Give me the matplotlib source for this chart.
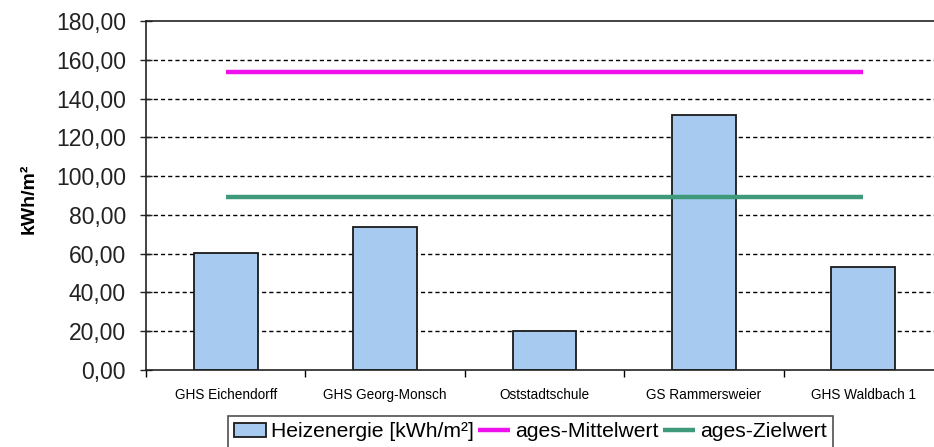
import numpy as np
import matplotlib
matplotlib.use('Agg')
import matplotlib.pyplot as plt
import matplotlib.ticker as ticker

plt.rcParams['font.family'] = ['Liberation Sans', 'DejaVu Sans']

schulen      = ['GHS Eichendorff', 'GHS Georg-Monsch', 'Oststadtschule', 'GS Rammersweier', 'GHS Waldbach 1']
heizenergie  = [60.2, 74.0, 20.0, 131.5, 53.0]
mittelwert   = [153.6, 153.6, 153.6, 153.6, 153.6]
zielwert     = [89.1, 89.1, 89.1, 89.1, 89.1]
y_ticks      = np.arange(0, 181, 20)
y_ticklabels = ['%.2f' % v for v in y_ticks]
y_ticklabels = [s.replace('.', ',') for s in y_ticklabels]

fig_width  = 9.34
fig_height = 4.47
fig = plt.figure(figsize=(fig_width, fig_height), dpi=100)
ax  = fig.add_axes([146/934, 1 - 370/447, 797/934, 349/447])

x = np.arange(len(schulen))
bars = ax.bar(x, heizenergie, width=0.40, color='#a6caf0', edgecolor='#1a1a1a', linewidth=1.3,
              zorder=2, label='Heizenergie [kWh/m²]')
l1, = ax.plot(x, mittelwert, color='#ee11ee', linewidth=3.2, solid_capstyle='butt', zorder=3,
              label='ages-Mittelwert')
l2, = ax.plot(x, zielwert, color='#3f9a7c', linewidth=3.2, solid_capstyle='butt', zorder=3,
              label='ages-Zielwert')

ax.set_xlim(-0.5, len(schulen) - 0.5)
ax.set_ylim(0, 180)

# horizontal dashed grid at the y ticks (top border takes the 180 line)
for yv in y_ticks[1:-1]:
    ax.axhline(yv, color='black', linewidth=1.0, ls=(0, (3.0, 2.2)), zorder=1)

ax.set_yticks(y_ticks)
ax.set_yticklabels(y_ticklabels, fontsize=16.5)
ax.tick_params(axis='y', direction='inout', length=9, width=1.0, pad=10, colors='#222222')

# category labels at centres, tick marks between categories
ax.set_xticks(x)
ax.set_xticklabels(schulen, fontsize=9.8)
ax.tick_params(axis='x', which='major', length=0, pad=13)
ax.xaxis.set_minor_locator(ticker.FixedLocator(np.arange(-0.5, len(schulen), 1.0)))
ax.tick_params(axis='x', which='minor', direction='out', length=5, width=1.0)

for side in ['left', 'bottom', 'top', 'right']:
    ax.spines[side].set_linewidth(1.2)
    ax.spines[side].set_color('#222222')

ax.set_ylabel('kWh/m²', fontsize=14, fontweight='bold')
ax.yaxis.set_label_coords(-0.136, 0.49)

leg = fig.legend(handles=[bars, l1, l2], loc='upper left', bbox_to_anchor=(228/934, 1 - 416/447),
                 ncol=3, fontsize=15.2, frameon=True, fancybox=False, shadow=False,
                 handlelength=1.5, handleheight=0.6, handletextpad=0.25, columnspacing=0.2,
                 borderpad=0.3, borderaxespad=0.0)
leg.get_frame().set_edgecolor('#222222')
leg.get_frame().set_linewidth(1.2)

fig.savefig('out.png', dpi=100)
plt.close()
